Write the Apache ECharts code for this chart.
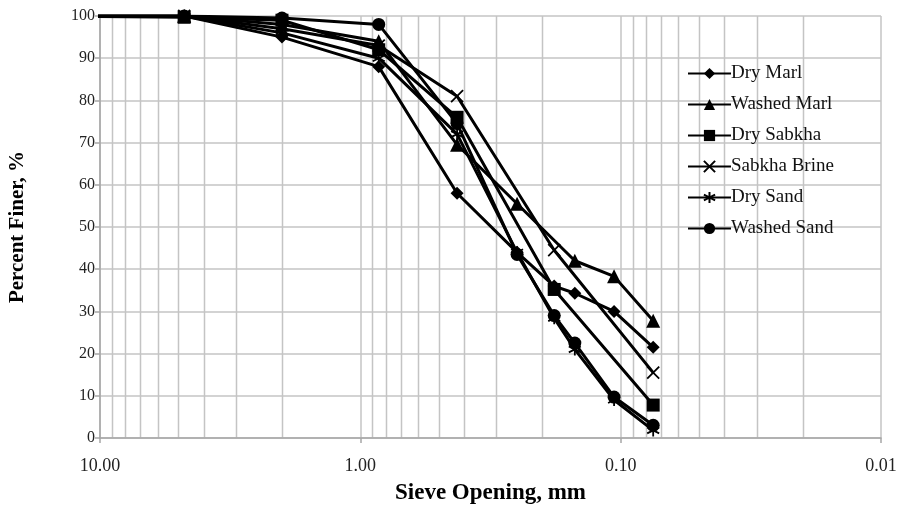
<!DOCTYPE html>
<html>
<head>
<meta charset="utf-8">
<script src="https://cdn.jsdelivr.net/npm/echarts@6/dist/echarts.min.js"></script>
<style>
  html, body { margin: 0; padding: 0; background: #fff; }
  #chart { width: 899px; height: 506px; }
</style>
</head>
<body>
<div id="chart"></div>
<script>
// Sieve openings (mm) and percent passing for each material
const sieveSizes = [19, 4.75, 2.0, 0.85, 0.425, 0.25, 0.18, 0.15, 0.106, 0.075];

const dryMarl     = [100, 100, 95,   88, 58,   44,   36,   34.3, 30,   21.5];
const washedMarl  = [100, 100, 98,   94, 69.5, 55.5, null, 42,   38.3, 27.8];
const drySabkha   = [100, 99.7, 99,  92, 76,   null, 35.2, null, null, 7.8];
const sabkhaBrine = [100, 100, 97,   93, 81,   null, 44.5, null, null, 15.5];
const drySand     = [100, 100, 96,   90, 72,   44,   28.4, 21,   9,    1.8];
const washedSand  = [100, 100, 99.5, 98, 74.5, 43.5, 29,   22.5, 9.7,  3];

const seriesNames = ['Dry Marl', 'Washed Marl', 'Dry Sabkha', 'Sabkha Brine', 'Dry Sand', 'Washed Sand'];
const seriesValues = [dryMarl, washedMarl, drySabkha, sabkhaBrine, drySand, washedSand];

// Intermediate log-cycle gridlines
const minorGrid = [0.02,0.03,0.04,0.05,0.06,0.07,0.08,0.09,
                   0.2,0.3,0.4,0.5,0.6,0.7,0.8,0.9,
                   2,3,4,5,6,7,8,9];

const xTicks = [10, 1, 0.1, 0.01];

const crossPath = 'path://M0,0L10,10M10,0L0,10';
const starPath = 'path://M5,0L5,10M0,2.5L10,7.5M10,2.5L0,7.5';

const markers = [
  { symbol: 'diamond', size: 13 },
  { symbol: 'triangle', size: 14 },
  { symbol: 'rect', size: 13 },
  { symbol: crossPath, size: 12 },
  { symbol: starPath, size: 12 },
  { symbol: 'circle', size: 13 }
];

const gridColor = '#c4c4c4';
const serif = '"Liberation Serif", "Times New Roman", serif';

const lineSeries = seriesNames.map((name, i) => {
  const isStroke = i === 3 || i === 4;
  return {
    name: name,
    type: 'line',
    data: sieveSizes.map((s, k) => [s, seriesValues[i][k]]),
    connectNulls: true,
    clip: true,
    symbol: markers[i].symbol,
    symbolSize: markers[i].size,
    showAllSymbol: true,
    lineStyle: { color: '#000', width: 3 },
    itemStyle: {
      color: isStroke ? 'rgba(0,0,0,0)' : '#000',
      borderColor: '#000',
      borderWidth: isStroke ? 1.8 : 0
    },
    emphasis: { disabled: true },
    z: 3,
    animation: false
  };
});

const minorSeries = {
  name: 'minorGrid',
  type: 'custom',
  silent: true,
  z: 0,
  animation: false,
  data: minorGrid.map(v => [v, 0]),
  encode: { x: 0, y: 1 },
  renderItem: function (params, api) {
    const v = api.value(0);
    const p0 = api.coord([v, 0]);
    const p1 = api.coord([v, 100]);
    return {
      type: 'line',
      shape: { x1: Math.round(p0[0]) + 0.5, y1: p0[1], x2: Math.round(p1[0]) + 0.5, y2: p1[1] },
      style: { stroke: gridColor, lineWidth: 1.5 }
    };
  }
};

const chart = echarts.init(document.getElementById('chart'), null, { renderer: 'canvas' });
chart.setOption({
  backgroundColor: '#fff',
  animation: false,
  grid: { left: 100, right: 18, top: 16, bottom: 68, containLabel: false, outerBoundsMode: 'none' },
  xAxis: {
    type: 'log',
    logBase: 10,
    min: 0.01,
    max: 10,
    inverse: true,
    name: 'Sieve Opening, mm',
    nameLocation: 'middle',
    nameGap: 44,
    nameTextStyle: { fontFamily: serif, fontWeight: 'bold', fontSize: 23, color: '#000' },
    axisLine: { show: true, lineStyle: { color: '#a6a6a6', width: 1.5 } },
    axisTick: { show: true, length: 5, lineStyle: { color: '#a6a6a6', width: 1.5 } },
    axisLabel: {
      fontFamily: serif, fontSize: 18, color: '#222', margin: 19,
      formatter: v => {
        const t = xTicks.find(x => Math.abs(Math.log10(x) - Math.log10(v)) < 1e-6);
        return t !== undefined ? t.toFixed(2) : '';
      }
    },
    splitLine: { show: true, lineStyle: { color: gridColor, width: 1.5 } }
  },
  yAxis: {
    type: 'value',
    min: 0,
    max: 100,
    interval: 10,
    name: 'Percent Finer, %',
    nameLocation: 'middle',
    nameGap: 72,
    nameRotate: 90,
    nameTextStyle: { fontFamily: serif, fontWeight: 'bold', fontSize: 21, color: '#000' },
    axisLine: { show: true, lineStyle: { color: '#a6a6a6', width: 1.5 } },
    axisTick: { show: true, length: 5, lineStyle: { color: '#a6a6a6', width: 1.5 } },
    axisLabel: { fontFamily: serif, fontSize: 16, color: '#222', margin: 5 },
    splitLine: { show: true, lineStyle: { color: gridColor, width: 1.5 } }
  },
  legend: {
    data: seriesNames,
    orient: 'vertical',
    left: 687,
    top: 64,
    padding: 0,
    itemWidth: 43,
    itemHeight: 14,
    itemGap: 12,
    textStyle: { fontFamily: serif, fontSize: 19, lineHeight: 18, color: '#111', padding: [0, 0, 0, -5] },
    selectedMode: false
  },
  series: [minorSeries].concat(lineSeries)
});
</script>
</body>
</html>
